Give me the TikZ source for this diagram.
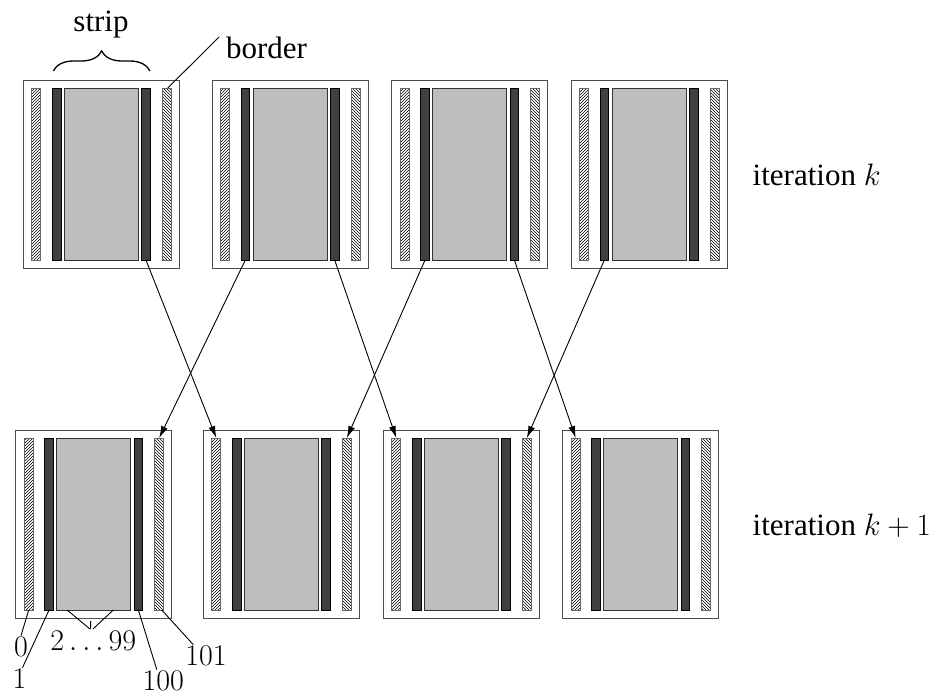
\RequirePackage{fix-cm}
\documentclass[tikz,border=0pt]{standalone}
\usepackage[no-math]{fontspec}
\setmainfont{Liberation Serif}
\usetikzlibrary{patterns,arrows.meta,decorations.pathreplacing}

\definecolor{coregray}{HTML}{BEBEBE}
\definecolor{stripdark}{HTML}{404040}

\tikzset{
  every node/.style={inner sep=0pt, outer sep=0pt},
  frame/.style={draw=black!70, line width=1pt, fill=white, anchor=north west,
                minimum width=156pt, minimum height=188pt},
  hatchleft/.style={draw=black!60, line width=0.7pt, pattern=north east lines,
                    pattern color=black, anchor=north west,
                    minimum width=9pt, minimum height=172pt},
  hatchright/.style={hatchleft, pattern=north west lines},
  darkstrip/.style={draw=black, line width=0.7pt, fill=stripdark, anchor=north west,
                    minimum width=8.7pt, minimum height=172pt},
  core/.style={draw=black!80, line width=0.7pt, fill=coregray, anchor=north west,
               minimum width=74pt, minimum height=172pt},
  arr/.style={line width=0.9pt, -{Latex[length=12pt,width=7pt]}},
  thin/.style={line width=0.9pt},
  txt/.style={font=\fontsize{31}{37}\selectfont},
  num/.style={font=\fontsize{30}{36}\selectfont, inner sep=1pt},
}

\begin{document}
\begin{tikzpicture}[x=1pt, y=-1pt]
  \useasboundingbox (0,0) rectangle (943,696);

  % one block: frame with border, boundary and interior strips
  \newcommand{\stripblock}[3]{%
    \node[frame] (#1) at (#2,#3) {};
    \node[hatchleft]  (#1-hl) at (#2+8.5,#3+8) {};
    \node[darkstrip]  (#1-dl) at (#2+29,#3+8) {};
    \node[core]       (#1-g)  at (#2+41,#3+8) {};
    \node[darkstrip]  (#1-dr) at (#2+118.3,#3+8) {};
    \node[hatchright] (#1-hr) at (#2+139,#3+8) {};
  }

  % iteration k
  \stripblock{t1}{23.3}{80}
  \stripblock{t2}{212}{80}
  \stripblock{t3}{391.7}{80}
  \stripblock{t4}{571}{80}

  % iteration k+1
  \stripblock{b1}{15.7}{430}
  \stripblock{b2}{203.3}{430}
  \stripblock{b3}{383.3}{430}
  \stripblock{b4}{562.7}{430}

  % exchange of boundary strips
  \draw[arr] (t1-dr.south) -- (b2-hl.north);
  \draw[arr] (t2-dl.south) -- (b1-hr.north);
  \draw[arr] (t2-dr.south) -- (b3-hl.north);
  \draw[arr] (t3-dl.south) -- (b2-hr.north);
  \draw[arr] (t3-dr.south) -- (b4-hl.north);
  \draw[arr] (t4-dl.south) -- (b3-hr.north);

  % row labels
  \node[txt, anchor=base west] (itk)  at (752.7,185) {iteration $k$};
  \node[txt, anchor=base west] (itk1) at (752.7,535) {iteration $k+1$};

  % strip brace
  \draw[line width=1.3pt, decorate, decoration={brace, amplitude=20pt}]
    (53.3,71) -- (150,71);
  \node[txt, anchor=base] (strip) at (101,31) {strip};

  % border callout
  \node[txt, anchor=base west] (border) at (226,58) {border};
  \coordinate (bordertip) at (219,37);
  \draw[thin] ([xshift=1pt]t1-hr.north) -- (bordertip);

  % column indices
  \node[num, anchor=base] (n0)   at (21,656)   {$0$};
  \node[num, anchor=base] (n1)   at (19.5,688) {$1$};
  \node[num, anchor=base] (n299) at (93.3,650) {$2\ldots99$};
  \node[num, anchor=base] (n100) at (163.3,690) {$100$};
  \node[num, anchor=base] (n101) at (206,665)  {$101$};
  \coordinate (meet) at (90,629);
  \coordinate (midtick) at (90.7,621);

  \draw[thin] (b1-hl.south) -- (n0.north);
  \draw[thin] (b1-dl.south) -- ([xshift=3pt]n1.north);
  \draw[thin] ([xshift=10.4pt]b1-g.south west) -- (meet);
  \draw[thin] ([xshift=-17.4pt]b1-g.south east) -- ([xshift=3pt]meet);
  \draw[thin] (midtick) -- ([xshift=0.5pt]meet);
  \draw[thin] (b1-dr.south) -- ([xshift=-6.5pt]n100.north);
  \draw[thin] ([xshift=2.5pt]b1-hr.south) -- ([xshift=-12.7pt]n101.north);
\end{tikzpicture}
\end{document}
